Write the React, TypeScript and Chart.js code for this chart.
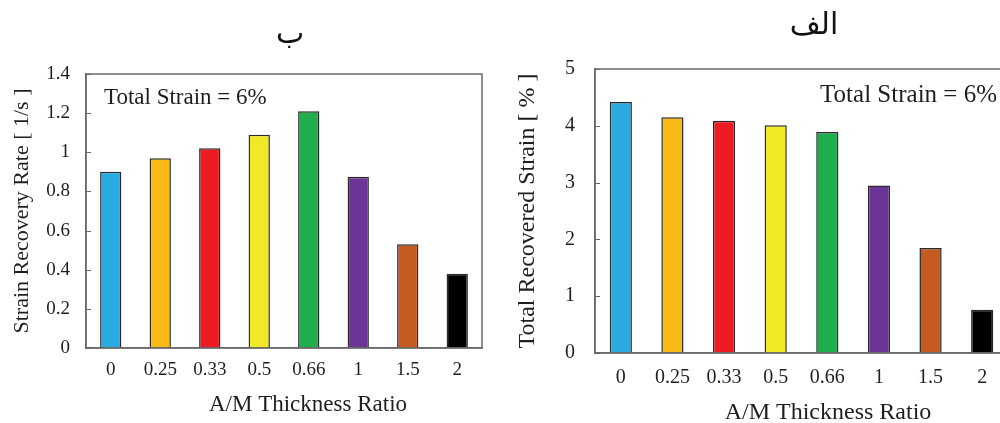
import React, { useEffect, useRef } from "react";
import { Chart, registerables } from "chart.js";

Chart.register(...registerables);

const categories = ["0", "0.25", "0.33", "0.5", "0.66", "1", "1.5", "2"];
const recoveryRate = [0.9, 0.97, 1.02, 1.09, 1.21, 0.875, 0.53, 0.38];
const recoveredStrain = [4.42, 4.15, 4.09, 4.01, 3.89, 2.95, 1.85, 0.76];
const barColors = ["#29abe2", "#fbb917", "#ed1c24", "#f2e926", "#20ad4e", "#6c3496", "#c65b22", "#000000"];
const rateTicks = [0, 0.2, 0.4, 0.6, 0.8, 1, 1.2, 1.4];
const strainTicks = [0, 1, 2, 3, 4, 5];
const leftTitle = "ب";
const rightTitle = "الف";
const annotationText = "Total Strain = 6%";
const xTitle = "A/M Thickness Ratio";
const leftYTitle = "Strain Recovery Rate [ 1/s ]";
const rightYTitle = "Total Recovered Strain [ % ]";

const SERIF = "'Liberation Serif', 'Times New Roman', serif";
const TEXT = "#1e1e1e";

type Cfg = {
  values: number[];
  ticks: number[];
  yMax: number;
  yTitle: string;
  title: string;
  tickFont: number;
  yTitleFont: number;
  yTitlePad: number;
  yTickPad: number;
  xTickPad: number;
  yAxisWidth: number;
  xAxisHeight: number;
  padTop: number;
  padRight: number;
  annFont: number;
  annAlign: "left" | "right";
  annDx: number;
  annDy: number;
  titleX: number;
  titleY: number;
  xTitleX: number;
  xTitleY: number;
  xTitleFont: number;
};

function makeDecor(c: Cfg) {
  return {
    id: "decor",
    afterDatasetsDraw(chart: any) {
      const { ctx, chartArea: a, scales } = chart;
      ctx.save();
      // frame
      ctx.strokeStyle = "#6a6a6a";
      ctx.lineWidth = 1.5;
      ctx.strokeRect(a.left, a.top, a.right - a.left, a.bottom - a.top);
      // inward tick marks on y axis
      const ys = scales.y;
      ctx.lineWidth = 1;
      ys.ticks.forEach((t: any) => {
        const py = Math.round(ys.getPixelForValue(t.value)) + 0.5;
        ctx.beginPath();
        ctx.moveTo(a.left, py);
        ctx.lineTo(a.left + 5, py);
        ctx.stroke();
      });
      // annotation
      ctx.fillStyle = TEXT;
      ctx.font = `${c.annFont}px ${SERIF}`;
      ctx.textBaseline = "middle";
      ctx.textAlign = c.annAlign;
      const ax = c.annAlign === "left" ? a.left + c.annDx : a.right - c.annDx;
      ctx.fillText(annotationText, ax, a.top + c.annDy);
      // x axis title
      ctx.font = `${c.xTitleFont}px ${SERIF}`;
      ctx.textAlign = "center";
      ctx.fillText(xTitle, c.xTitleX, c.xTitleY);
      // panel title (Arabic)
      ctx.font = `30px 'DejaVu Sans', 'Noto Sans', sans-serif`;
      ctx.textBaseline = "alphabetic";
      ctx.fillStyle = "#111";
      ctx.fillText(c.title, c.titleX, c.titleY);
      ctx.restore();
    },
  };
}

function BarPanel({ cfg, width, height, left }: { cfg: Cfg; width: number; height: number; left: number }) {
  const ref = useRef<HTMLCanvasElement | null>(null);
  useEffect(() => {
    if (!ref.current) return;
    const chart = new Chart(ref.current, {
      type: "bar",
      data: {
        labels: categories,
        datasets: [
          {
            data: cfg.values,
            backgroundColor: barColors,
            borderColor: "#2a2a2a",
            borderWidth: 1.5,
            barPercentage: 0.43,
            categoryPercentage: 1,
          },
        ],
      },
      options: {
        responsive: false,
        animation: false,
        layout: { padding: { top: cfg.padTop, right: cfg.padRight, left: 0, bottom: 0 } },
        plugins: { legend: { display: false }, tooltip: { enabled: false }, title: { display: false } },
        scales: {
          x: {
            grid: { display: false, drawTicks: false },
            border: { display: true, color: "#6a6a6a", width: 1.5 },
            ticks: { color: TEXT, font: { family: SERIF, size: cfg.tickFont }, padding: cfg.xTickPad, maxRotation: 0, autoSkip: false },
            afterFit: (s: any) => {
              s.height = cfg.xAxisHeight;
            },
          },
          y: {
            min: 0,
            max: cfg.yMax,
            grid: { drawOnChartArea: false, drawTicks: false },
            border: { display: true, color: "#6a6a6a", width: 1.5 },
            afterBuildTicks: (s: any) => {
              s.ticks = cfg.ticks.map((v) => ({ value: v }));
            },
            ticks: {
              color: TEXT,
              font: { family: SERIF, size: cfg.tickFont },
              padding: cfg.yTickPad,
              callback: (v: any) => String(Number(Number(v).toFixed(2))),
            },
            title: {
              display: true,
              text: cfg.yTitle,
              color: TEXT,
              font: { family: SERIF, size: cfg.yTitleFont },
              padding: { top: cfg.yTitlePad, bottom: 0 },
            },
            afterFit: (s: any) => {
              s.width = cfg.yAxisWidth;
            },
          },
        },
      },
      plugins: [makeDecor(cfg)],
    });
    return () => chart.destroy();
  }, []);
  return (
    <canvas
      ref={ref}
      width={width}
      height={height}
      style={{ position: "absolute", left, top: 0, width, height }}
    />
  );
}

const leftCfg: Cfg = {
  values: recoveryRate,
  ticks: rateTicks,
  yMax: 1.4,
  yTitle: leftYTitle,
  title: leftTitle,
  tickFont: 19,
  yTitleFont: 22,
  yTitlePad: 9,
  yTickPad: 16,
  xTickPad: 11,
  yAxisWidth: 86,
  xAxisHeight: 75,
  padTop: 74,
  padRight: 18,
  annFont: 23,
  annAlign: "left",
  annDx: 18,
  annDy: 24,
  titleX: 290,
  titleY: 43,
  xTitleX: 308,
  xTitleY: 405,
  xTitleFont: 23,
};

const rightCfg: Cfg = {
  values: recoveredStrain,
  ticks: strainTicks,
  yMax: 5,
  yTitle: rightYTitle,
  title: rightTitle,
  tickFont: 20,
  yTitleFont: 24,
  yTitlePad: 13,
  yTickPad: 20,
  xTickPad: 13,
  yAxisWidth: 95,
  xAxisHeight: 70,
  padTop: 69,
  padRight: 12,
  annFont: 25,
  annAlign: "right",
  annDx: 11,
  annDy: 26,
  titleX: 314,
  titleY: 34,
  xTitleX: 328,
  xTitleY: 413,
  xTitleFont: 24,
};

export default function App() {
  return (
    <div
      style={{
        position: "fixed",
        left: 0,
        top: 0,
        width: 1000,
        height: 423,
        overflow: "hidden",
        background: "#ffffff",
      }}
    >
      <BarPanel cfg={leftCfg} width={500} height={423} left={0} />
      <BarPanel cfg={rightCfg} width={520} height={423} left={500} />
    </div>
  );
}
